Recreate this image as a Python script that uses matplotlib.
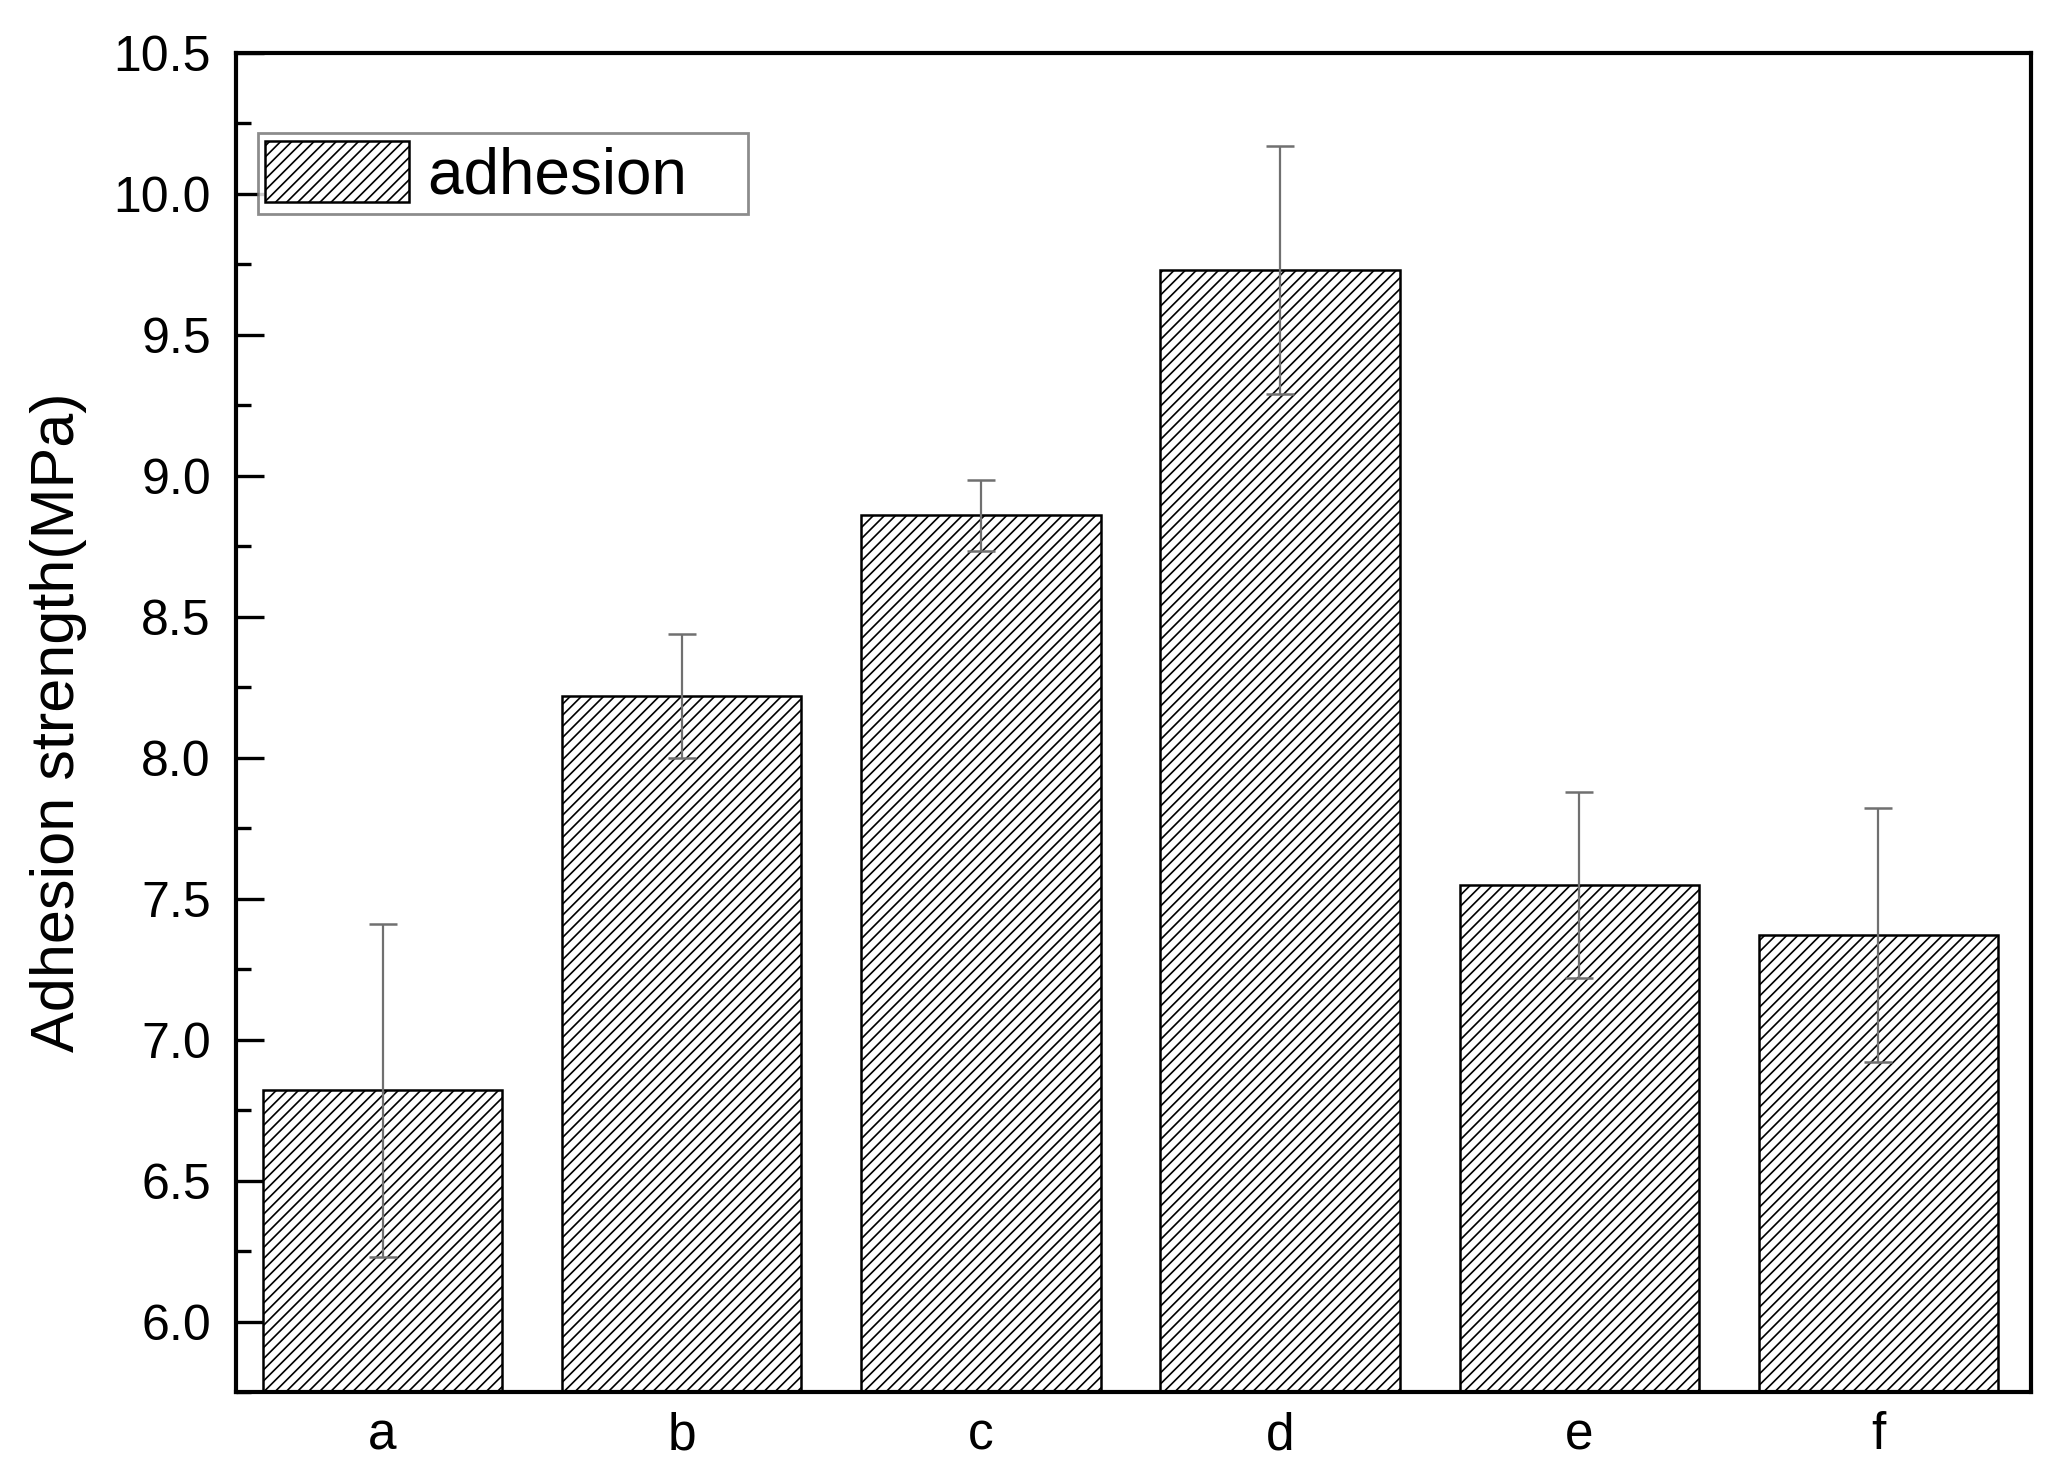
import numpy as np
import matplotlib
matplotlib.use("Agg")
import matplotlib.pyplot as plt
from matplotlib.ticker import MultipleLocator, FormatStrFormatter

samples = ["a", "b", "c", "d", "e", "f"]
adhesion = [6.82, 8.22, 8.86, 9.73, 7.55, 7.37]
adhesion_err = [0.59, 0.22, 0.125, 0.44, 0.33, 0.45]

plt.rcParams["font.family"] = ["Liberation Sans", "DejaVu Sans"]
plt.rcParams["hatch.linewidth"] = 1.2
plt.rcParams["hatch.color"] = "black"

fig = plt.figure(figsize=(20.59, 14.81), dpi=100)
ax = fig.add_axes([0.1146, 0.0601, 0.8718, 0.9041])

x = np.arange(len(samples))
ax.bar(x, adhesion, width=0.8, color="white", edgecolor="black",
       linewidth=1.8, hatch="///", label="adhesion   ", zorder=2)
ax.errorbar(x, adhesion, yerr=adhesion_err, fmt="none", ecolor="#707070",
            elinewidth=1.6, capsize=10, capthick=1.8, zorder=3)

ax.set_xlim(-0.49, 5.51)
ax.set_ylim(5.75, 10.5)
ax.set_xticks(x)
ax.set_xticklabels(samples)
ax.yaxis.set_major_locator(MultipleLocator(0.5))
ax.yaxis.set_minor_locator(MultipleLocator(0.25))
ax.yaxis.set_major_formatter(FormatStrFormatter("%.1f"))

ax.tick_params(axis="y", which="major", direction="in", length=20, width=2.4,
               labelsize=36, pad=18, right=False)
ax.tick_params(axis="y", which="minor", direction="in", length=11, width=2.4,
               right=False)
ax.tick_params(axis="x", which="both", length=0, labelsize=37, pad=14)

for s in ax.spines.values():
    s.set_linewidth(3)

ax.set_ylabel("Adhesion strength(MPa)", fontsize=44)
ax.yaxis.set_label_coords(-0.083, 0.5)

leg = ax.legend(loc="upper left", bbox_to_anchor=(0.012, 0.94), borderaxespad=0,
                fontsize=46, handlelength=2.25, handleheight=1.1,
                handletextpad=0.3, borderpad=0.12, fancybox=False)
leg.get_frame().set_edgecolor("#707070")
leg.get_frame().set_linewidth(2)

fig.savefig("out.png", dpi=100)
